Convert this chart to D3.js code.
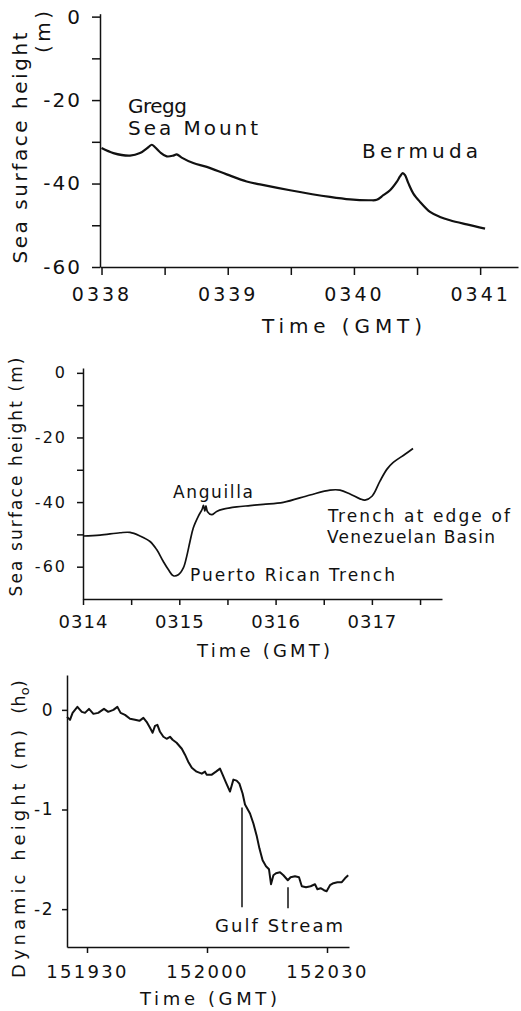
<!DOCTYPE html>
<html><head><meta charset="utf-8">
<script src="https://cdn.jsdelivr.net/npm/d3@7"></script>
<style>
html,body{margin:0;padding:0;background:#fff;}
svg{display:block;}
text{font-family:"DejaVu Sans",sans-serif;fill:#111;}
</style></head><body>
<svg id="chart" width="521" height="1011"></svg>
<script>
// ---------- DATA ----------
// Panel 1: sea surface height over Gregg Sea Mount and Bermuda (time in minutes, hhmm)
const topTime = [338.000,338.094,338.226,338.305,338.371,338.398,338.424,338.464,338.517,338.569,338.596,338.635,338.727,338.834,338.992,339.150,339.256,339.494,339.810,339.969,340.128,340.181,340.233,340.286,340.339,340.365,340.387,340.405,340.431,340.471,340.524,340.603,340.682,340.761,340.894,341.039];
const topHeight = [-31.5,-32.7,-33.3,-32.7,-31.3,-30.7,-31.3,-32.5,-33.5,-33.3,-33.0,-33.8,-35.1,-36.0,-37.8,-39.5,-40.2,-41.6,-43.2,-43.8,-44.0,-43.9,-42.8,-41.6,-39.6,-38.3,-37.5,-38.0,-39.9,-42.4,-44.4,-46.8,-48.0,-48.8,-49.8,-50.8];
const topXTicks = [338,338.5,339,339.5,340,340.5,341];
const topXLabels = ["0338","","0339","","0340","","0341"];
const topYTicks = [0,-10,-20,-30,-40,-50,-60];
const topYLabels = ["0","","-20","","-40","","-60"];

// Panel 2: Puerto Rican Trench
const midTime = [314.000,314.177,314.384,314.488,314.592,314.696,314.765,314.834,314.886,314.938,314.990,315.042,315.077,315.111,315.145,315.197,315.236,315.251,315.265,315.277,315.293,315.336,315.388,315.457,315.596,315.734,315.872,316.080,316.357,316.565,316.669,316.773,316.877,316.928,317.001,317.084,317.157,317.219,317.344,317.427];
const midHeight = [-50.5,-50.2,-49.5,-49.4,-50.5,-52.2,-54.7,-58.4,-60.9,-62.8,-62.5,-60.4,-56.8,-52.2,-48.0,-44.4,-42.3,-41.0,-42.8,-41.2,-43.0,-43.9,-42.9,-42.2,-41.5,-41.1,-40.7,-40.1,-37.8,-36.3,-36.3,-37.5,-39.0,-39.4,-38.2,-33.5,-29.8,-27.8,-25.2,-23.4];
const midXTicks = [314,314.5,315,315.5,316,316.5,317,317.5];
const midXLabels = ["0314","","0315","","0316","","0317",""];
const midYTicks = [0,-10,-20,-30,-40,-50,-60];
const midYLabels = ["0","","-20","","-40","","-60"];

// Panel 3: dynamic height across the Gulf Stream (time in seconds after 15:19:00)
const botTime = [25.0,25.75,26.4,27.6,28.7,29.5,30.5,31.6,32.8,34.25,35.3,36.6,37.6,38.4,39.5,40.75,42.0,43.1,44.1,44.9,45.75,46.4,47.0,47.6,48.25,49.1,49.9,50.75,51.4,52.4,53.7,54.5,55.3,56.2,57.4,58.7,59.5,59.9,61.2,62.25,63.25,63.9,64.75,65.75,66.25,66.6,67.4,68.1,68.9,69.5,70.75,71.6,72.4,73.1,73.9,74.75,75.5,76.0,76.6,77.25,78.25,79.1,80.2,80.9,82.0,83.0,83.7,84.75,85.9,87.0,87.6,88.4,89.25,89.9,90.75,91.6,92.6,93.7,94.5,95.3];
const botHeight = [-0.07,-0.10,-0.03,0.03,-0.02,-0.03,0.01,-0.04,-0.03,0.01,-0.02,0.00,0.03,-0.03,-0.05,-0.09,-0.10,-0.11,-0.08,-0.12,-0.18,-0.23,-0.16,-0.15,-0.22,-0.27,-0.29,-0.27,-0.30,-0.33,-0.39,-0.45,-0.52,-0.58,-0.62,-0.64,-0.62,-0.65,-0.65,-0.62,-0.59,-0.65,-0.73,-0.82,-0.75,-0.70,-0.71,-0.74,-0.84,-0.95,-1.04,-1.14,-1.26,-1.39,-1.51,-1.57,-1.60,-1.75,-1.66,-1.64,-1.63,-1.66,-1.71,-1.68,-1.67,-1.68,-1.77,-1.78,-1.77,-1.75,-1.80,-1.79,-1.81,-1.82,-1.76,-1.74,-1.73,-1.73,-1.69,-1.66];
const botXTicks = [30,60,90];
const botXLabels = ["151930","152000","152030"];
const botYTicks = [0,-1,-2];
const botYLabels = ["0","-1","-2"];
const gulfTimes = [68.75,80.25];
const gulfTop = [-0.98,-1.78];
const gulfBottom = [-1.98,-1.99];

// ---------- DRAW ----------
const svg = d3.select("#chart");
const INK = "#111";

function styleAxis(g, fontSize, spacing) {
  g.select(".domain").attr("stroke", INK).attr("stroke-width", 1.5);
  g.selectAll(".tick line").attr("stroke", INK).attr("stroke-width", 1.5);
  g.selectAll(".tick text").attr("fill", INK).attr("font-size", fontSize)
    .attr("font-family", '"DejaVu Sans",sans-serif').style("letter-spacing", spacing + "px");
}
function label(txt, x, y, size, len, rot, anchor) {
  const t = svg.append("text").text(txt).attr("font-size", size)
    .attr("text-anchor", anchor || "start");
  if (rot) t.attr("transform", `translate(${x},${y}) rotate(-90)`);
  else t.attr("x", x).attr("y", y);
  if (len) t.attr("textLength", len).attr("lengthAdjust", "spacing");
  return t;
}

// ----- Panel 1 -----
const x1 = d3.scaleLinear().domain([337.988, 341.30]).range([100, 518]);
const y1 = d3.scaleLinear().domain([-60, 0.7]).range([267, 13.7]);
svg.append("g").attr("transform", "translate(0,267)")
  .call(d3.axisBottom(x1).tickValues(topXTicks).tickSize(8).tickSizeOuter(0).tickPadding(13)
    .tickFormat((d, i) => topXLabels[i]))
  .call(g => styleAxis(g, 19, 3));
svg.append("g").attr("transform", "translate(100,0)")
  .call(d3.axisLeft(y1).tickValues(topYTicks).tickSize(8).tickSizeOuter(0).tickPadding(10)
    .tickFormat((d, i) => topYLabels[i]))
  .call(g => styleAxis(g, 20, 2));
svg.append("path").datum(topTime.map((t, i) => [t, topHeight[i]]))
  .attr("fill", "none").attr("stroke", INK).attr("stroke-width", 2.2)
  .attr("stroke-linejoin", "round")
  .attr("d", d3.line().x(d => x1(d[0])).y(d => y1(d[1])).curve(d3.curveCatmullRom.alpha(0.5)));
label("Sea surface height", 27, 148, 20, 231, true, "middle");
label("(m)", 50, 32, 20, 42, true, "middle");
label("Time  (GMT)", 342, 333, 20, 160, false, "middle");
label("Gregg", 128, 113, 20, 59);
label("Sea Mount", 128, 135, 20, 130);
label("Bermuda", 362, 158, 20, 116);

// ----- Panel 2 -----
const x2 = d3.scaleLinear().domain([314, 317.728]).range([83, 442]);
const y2 = d3.scaleLinear().domain([-70, 1.5]).range([599, 368]);
svg.append("g").attr("transform", "translate(0,599)")
  .call(d3.axisBottom(x2).tickValues(midXTicks).tickSize(6).tickSizeOuter(0).tickPadding(10)
    .tickFormat((d, i) => midXLabels[i]))
  .call(g => styleAxis(g, 18, 1));
svg.append("g").attr("transform", "translate(83,0)")
  .call(d3.axisLeft(y2).tickValues(midYTicks).tickSize(6).tickSizeOuter(0).tickPadding(10)
    .tickFormat((d, i) => midYLabels[i]))
  .call(g => styleAxis(g, 16, 2));
svg.append("path").datum(midTime.map((t, i) => [t, midHeight[i]]))
  .attr("fill", "none").attr("stroke", INK).attr("stroke-width", 1.7)
  .attr("stroke-linejoin", "round")
  .attr("d", d3.line().x(d => x2(d[0])).y(d => y2(d[1])).curve(d3.curveCatmullRom.alpha(0.5)));
label("Sea surface height (m)", 22, 477, 17, 239, true, "middle");
label("Time  (GMT)", 263.5, 657, 18, 133, false, "middle");
label("Anguilla", 173, 498, 17, 80);
label("Puerto Rican Trench", 190, 581, 17, 205);
label("Trench at edge of", 328, 522, 17, 182);
label("Venezuelan Basin", 327, 543, 17, 168);

// ----- Panel 3 -----
const x3 = d3.scaleLinear().domain([25, 95.5]).range([67, 349]);
const y3 = d3.scaleLinear().domain([-2.38, 0.35]).range([947, 675]);
svg.append("g").attr("transform", "translate(0,947)")
  .call(d3.axisBottom(x3).tickValues(botXTicks).tickSize(6).tickSizeOuter(0).tickPadding(12)
    .tickFormat((d, i) => botXLabels[i]))
  .call(g => styleAxis(g, 18, 2.3));
svg.append("g").attr("transform", "translate(67,0)")
  .call(d3.axisLeft(y3).tickValues(botYTicks).tickSize(5).tickSizeOuter(0).tickPadding(8)
    .tickFormat((d, i) => botYLabels[i]))
  .call(g => styleAxis(g, 17, 1.5));
svg.append("path").datum(botTime.map((t, i) => [t, botHeight[i]]))
  .attr("fill", "none").attr("stroke", INK).attr("stroke-width", 2)
  .attr("stroke-linejoin", "round")
  .attr("d", d3.line().x(d => x3(d[0])).y(d => y3(d[1])));
svg.selectAll("line.gulf").data(gulfTimes).enter().append("line").attr("class", "gulf")
  .attr("x1", d => x3(d)).attr("x2", d => x3(d))
  .attr("y1", (d, i) => y3(gulfTop[i])).attr("y2", (d, i) => y3(gulfBottom[i]))
  .attr("stroke", INK).attr("stroke-width", 1.5);
label("Gulf Stream", 215, 932, 18, 128);
label("Time  (GMT)", 208.5, 1005, 18, 137, false, "middle");
label("Dynamic height (m)", 25, 854, 18, 248, true, "middle");
const ho = svg.append("text").attr("font-size", 18).attr("text-anchor", "middle")
  .attr("transform", "translate(25,697) rotate(-90)");
ho.append("tspan").text("(h");
ho.append("tspan").text("o").attr("font-size", 13).attr("dy", 4);
ho.append("tspan").text(")").attr("dy", -4);
</script>
</body></html>
